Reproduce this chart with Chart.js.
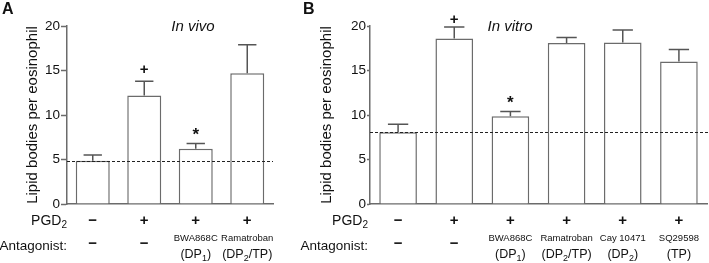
<!DOCTYPE html>
<html>
<head>
<meta charset="utf-8">
<script src="https://cdn.jsdelivr.net/npm/chart.js@4.4.0/dist/chart.umd.min.js"></script>
<style>
html, body { margin: 0; padding: 0; background: #fff; }
#wrap { position: relative; width: 709px; height: 263px; overflow: hidden; }
canvas { position: absolute; top: 0; }
#chartA { left: 0; }
#chartB { left: 300px; }
</style>
</head>
<body>
<div id="wrap">
	<canvas id="chartA" width="300" height="263"></canvas>
	<canvas id="chartB" width="409" height="263"></canvas>
</div>
<script>
// panel A - in vivo
var catsA = ['Vehicle', 'PGD2', 'PGD2 + BWA868C', 'PGD2 + Ramatroban'];
var valuesA = [4.85, 12.2, 6.2, 14.7];
var semA = [0.65, 1.6, 0.6, 3.2];
var pgdA = ['−', '+', '+', '+'];
var antA = ['−', '−', ['BWA868C', '(DP_1)'], ['Ramatroban', '(DP_2/TP)']];
var marksA = ['', '+', '*', ''];
var baselineA = 4.85;

// panel B - in vitro
var catsB = ['Vehicle', 'PGD2', 'PGD2 + BWA868C', 'PGD2 + Ramatroban', 'PGD2 + Cay10471', 'PGD2 + SQ29598'];
var valuesB = [8.05, 18.6, 9.85, 18.1, 18.15, 16.0];
var semB = [0.9, 1.3, 0.55, 0.6, 1.4, 1.35];
var pgdB = ['−', '+', '+', '+', '+', '+'];
var antB = ['−', '−', ['BWA868C', '(DP_1)'], ['Ramatroban', '(DP_2/TP)'], ['Cay 10471', '(DP_2)'], ['SQ29598', '(TP)']];
var marksB = ['', '+', '*', '', '', ''];
var baselineB = 8.05;

var yTicks = [0, 5, 10, 15, 20];

var FONT = 'Arial, "Liberation Sans", sans-serif';
var LINE = '#6b6b6b';
Chart.defaults.font.family = FONT;
Chart.defaults.color = '#111';

// text with _x subscripts
function drawRich(ctx, str, x, y, size, align, weight) {
	var parts = str.split(/_(.)/);
	var w0 = weight ? weight + ' ' : '';
	var main = w0 + size + 'px ' + FONT;
	var sub = w0 + Math.round(size * 0.72) + 'px ' + FONT;
	var w = 0;
	parts.forEach(function(p, i) {
		ctx.font = i % 2 ? sub : main;
		w += ctx.measureText(p).width;
	});
	var cx = align == 'right' ? x - w : (align == 'center' ? x - w / 2 : x);
	ctx.textAlign = 'left';
	ctx.textBaseline = 'middle';
	parts.forEach(function(p, i) {
		ctx.font = i % 2 ? sub : main;
		ctx.fillText(p, cx, i % 2 ? y + size * 0.3 : y);
		cx += ctx.measureText(p).width;
	});
}

function panelPlugin(p) {
	return {
		id: 'panel' + p.letter,
		afterDatasetsDraw: function(chart) {
			var ctx = chart.ctx;
			var y = chart.scales.y;
			var area = chart.chartArea;
			var meta = chart.getDatasetMeta(0);
			ctx.save();

			// error bars (upper only)
			ctx.strokeStyle = '#555';
			ctx.lineWidth = 1.5;
			meta.data.forEach(function(bar, i) {
				var top = y.getPixelForValue(p.values[i]);
				var hi = y.getPixelForValue(p.values[i] + p.sem[i]);
				var half = bar.width * 0.27;
				ctx.beginPath();
				ctx.moveTo(bar.x, top);
				ctx.lineTo(bar.x, hi);
				ctx.moveTo(bar.x - half, hi);
				ctx.lineTo(bar.x + half, hi);
				ctx.stroke();
			});

			// vehicle baseline
			var by = Math.round(y.getPixelForValue(p.baseline)) + 0.5;
			ctx.strokeStyle = '#222';
			ctx.lineWidth = 1;
			ctx.setLineDash([3, 2]);
			ctx.beginPath();
			ctx.moveTo(area.left, by);
			ctx.lineTo(p.lineEnd || area.right, by);
			ctx.stroke();
			ctx.setLineDash([]);

			ctx.fillStyle = '#111';
			// significance marks
			meta.data.forEach(function(bar, i) {
				if (!p.marks[i]) return;
				var hi = y.getPixelForValue(p.values[i] + p.sem[i]);
				var my = Math.max(hi - 11, area.top - 6);
				ctx.font = 'bold ' + (p.marks[i] == '*' ? '17px ' : '15px ') + FONT;
				ctx.textAlign = 'center';
				ctx.textBaseline = 'middle';
				ctx.fillText(p.marks[i], bar.x, p.marks[i] == '*' ? my + 3 : my);
			});

			// title
			ctx.font = 'italic 15px ' + FONT;
			ctx.textAlign = 'center';
			ctx.textBaseline = 'middle';
			ctx.fillText(p.title, p.titleX, 27);

			// panel letter
			ctx.font = 'bold 16px ' + FONT;
			ctx.textAlign = 'left';
			ctx.textBaseline = 'top';
			ctx.fillText(p.letter, p.letterX, 2);

			// treatment rows
			drawRich(ctx, 'PGD_2', p.rowRight, 221, 14, 'right');
			drawRich(ctx, 'Antagonist:', p.rowRight, 246, 13.5, 'right');
			meta.data.forEach(function(bar, i) {
				drawRich(ctx, p.pgd[i], bar.x, 221, 15, 'center', 'bold');
				var a = p.ant[i];
				if (typeof a == 'string') {
					drawRich(ctx, a, bar.x, 244, 15, 'center', 'bold');
				} else {
					drawRich(ctx, a[0], bar.x, 238, 9.5, 'center');
					drawRich(ctx, a[1], bar.x, 255, 12.5, 'center');
				}
			});
			ctx.restore();
		}
	};
}

function makeChart(id, cats, values, p, opts) {
	var ctx = document.getElementById(id);
	return new Chart(ctx, {
		type: 'bar',
		data: {
			labels: cats,
			datasets: [{
				data: values,
				backgroundColor: '#fff',
				borderColor: LINE,
				borderWidth: 1.5,
				categoryPercentage: 1,
				barPercentage: opts.barPct
			}]
		},
		options: {
			responsive: false,
			animation: false,
			events: [],
			layout: { padding: { top: 26, bottom: 59, left: 0, right: opts.padRight } },
			plugins: { legend: { display: false }, tooltip: { enabled: false } },
			scales: {
				x: {
					grid: { display: false },
					border: { color: LINE, width: 1.5 },
					ticks: { display: false },
					afterFit: function(s) { s.height = 0; }
				},
				y: {
					min: 0,
					max: 20,
					afterBuildTicks: function(s) { s.ticks = yTicks.map(function(v) { return { value: v }; }); },
					ticks: { font: { size: 13.5 }, color: '#111', padding: opts.tickPad },
					grid: { drawOnChartArea: false, tickLength: opts.tickLen, tickColor: LINE, tickWidth: 1.5 },
					border: { color: LINE, width: 1.5 },
					title: {
						display: true,
						text: 'Lipid bodies per eosinophil',
						font: { size: 15 },
						color: '#111',
						padding: { top: opts.titlePad, bottom: 0 }
					},
					afterFit: function(s) { s.width = opts.yWidth; }
				}
			}
		},
		plugins: [panelPlugin(p)]
	});
}

makeChart('chartA', catsA, valuesA, {
	letter: 'A', letterX: 2, title: 'In vivo', titleX: 193, rowRight: 67,
	values: valuesA, sem: semA, pgd: pgdA, ant: antA, marks: marksA, baseline: baselineA
}, { barPct: 0.66, padRight: 27, yWidth: 67, tickLen: 6, tickPad: 1, titlePad: 24 });

makeChart('chartB', catsB, valuesB, {
	letter: 'B', letterX: 3, title: 'In vitro', titleX: 210, rowRight: 68, lineEnd: 409,
	values: valuesB, sem: semB, pgd: pgdB, ant: antB, marks: marksB, baseline: baselineB
}, { barPct: 0.67, padRight: 2, yWidth: 70, tickLen: 3, tickPad: 1, titlePad: 18 });
</script>
</body>
</html>
